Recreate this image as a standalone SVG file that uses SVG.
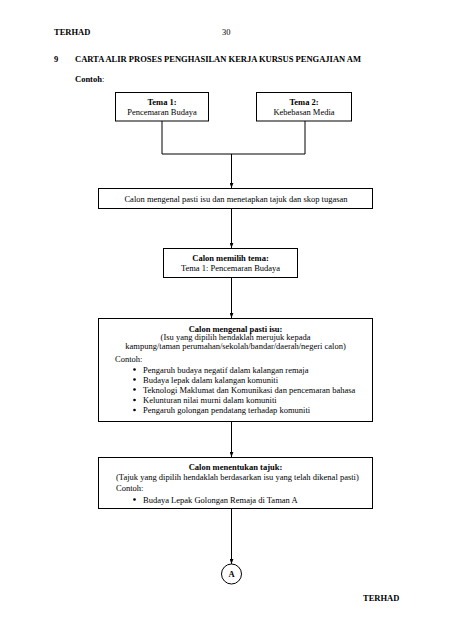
<svg xmlns="http://www.w3.org/2000/svg" width="453" height="640" viewBox="0 0 453 640">
<style>
text{font-family:"Liberation Serif","Times New Roman",serif;font-size:8.5px;fill:#000}
.b{font-weight:bold}
.c{text-anchor:middle}
.box{fill:#fff;stroke:#000;stroke-width:1}
.ln{fill:none;stroke:#000;stroke-width:1}
</style>
<defs>
<marker id="ah" viewBox="0 0 8 6" refX="8" refY="3" markerWidth="5" markerHeight="4" orient="auto" markerUnits="userSpaceOnUse">
<path d="M0,0 L8,3 L0,6 Z" fill="#000"/>
</marker>
</defs>
<rect width="453" height="640" fill="#fff"/>
<text class="b" x="54" y="35">TERHAD</text>
<text x="222" y="35">30</text>
<text class="b" x="54" y="62">9</text>
<text class="b" x="75" y="62">CARTA ALIR PROSES PENGHASILAN KERJA KURSUS PENGAJIAN AM</text>
<text class="b" x="75" y="82">Contoh<tspan font-weight="normal">:</tspan></text>

<g id="connectors">
<polyline class="ln" points="162,121 162,154 305,154 305,121"/>
<line class="ln" x1="231.5" y1="154" x2="231.5" y2="188" marker-end="url(#ah)"/>
<line class="ln" x1="231.5" y1="208" x2="231.5" y2="248" marker-end="url(#ah)"/>
<line class="ln" x1="231.5" y1="277" x2="231.5" y2="318" marker-end="url(#ah)"/>
<line class="ln" x1="231.5" y1="422" x2="231.5" y2="457" marker-end="url(#ah)"/>
<line class="ln" x1="231.5" y1="509" x2="231.5" y2="564" marker-end="url(#ah)"/>
</g>

<g id="tema1">
<rect class="box" x="115.5" y="92.5" width="93" height="28.5"/>
<text class="b c" x="162" y="105">Tema 1:</text>
<text class="c" x="162" y="115">Pencemaran Budaya</text>
</g>
<g id="tema2">
<rect class="box" x="256.5" y="92.5" width="95" height="28.5"/>
<text class="b c" x="304" y="105">Tema 2:</text>
<text class="c" x="304" y="115">Kebebasan Media</text>
</g>
<g id="kenal-skop">
<rect class="box" x="98.5" y="188.5" width="274" height="20"/>
<text class="c" x="236" y="201.5">Calon mengenal pasti isu dan menetapkan tajuk dan skop tugasan</text>
</g>
<g id="pilih-tema">
<rect class="box" x="163.5" y="248.5" width="134" height="29"/>
<text class="b c" x="230.5" y="261">Calon memilih tema:</text>
<text class="c" x="230.5" y="271">Tema 1: Pencemaran Budaya</text>
</g>
<g id="kenal-isu">
<rect class="box" x="98.5" y="318.5" width="274" height="103"/>
<text class="b c" x="235.5" y="331.5">Calon mengenal pasti isu:</text>
<text class="c" x="235.5" y="340">(Isu yang dipilih hendaklah merujuk kepada</text>
<text class="c" x="235.5" y="348.5">kampung/taman perumahan/sekolah/bandar/daerah/negeri calon)</text>
<text x="115" y="362">Contoh:</text>
<g>
<circle cx="134.5" cy="369.5" r="1.3"/>
<circle cx="134.5" cy="379.5" r="1.3"/>
<circle cx="134.5" cy="389.5" r="1.3"/>
<circle cx="134.5" cy="400" r="1.3"/>
<circle cx="134.5" cy="410" r="1.3"/>
</g>
<text x="143" y="372.5">Pengaruh budaya negatif dalam kalangan remaja</text>
<text x="143" y="382.5">Budaya lepak dalam kalangan komuniti</text>
<text x="143" y="392.5">Teknologi Maklumat dan Komunikasi dan pencemaran bahasa</text>
<text x="143" y="403">Kelunturan nilai murni dalam komuniti</text>
<text x="143" y="413">Pengaruh golongan pendatang terhadap komuniti</text>
</g>
<g id="tajuk">
<rect class="box" x="98.5" y="457.5" width="274" height="51"/>
<text class="b c" x="235.5" y="470">Calon menentukan tajuk:</text>
<text x="116" y="480">(Tajuk yang dipilih hendaklah berdasarkan isu yang telah dikenal pasti)</text>
<text x="116" y="491">Contoh:</text>
<circle cx="134.5" cy="499.5" r="1.3"/>
<text x="143" y="502.5">Budaya Lepak Golongan Remaja di Taman A</text>
</g>
<g id="connector-a">
<circle class="box" cx="231.5" cy="574" r="10"/>
<text class="b c" x="231.5" y="577" font-size="7">A</text>
</g>
<text class="b" x="363" y="601">TERHAD</text>
</svg>
